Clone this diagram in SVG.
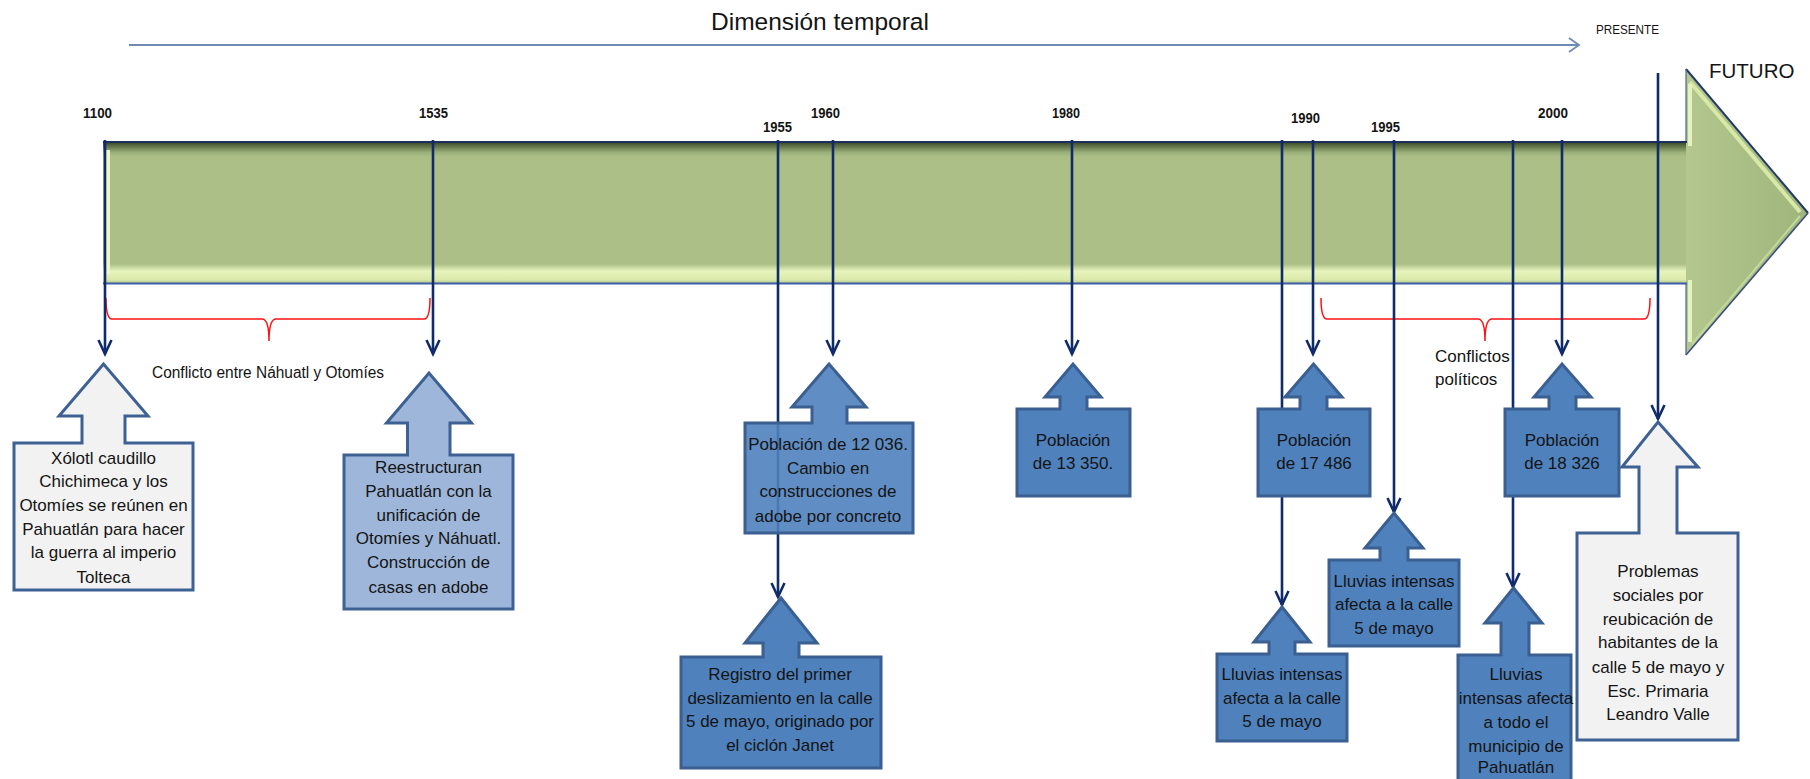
<svg xmlns="http://www.w3.org/2000/svg" width="1810" height="779" viewBox="0 0 1810 779">
<style>
text{font-family:"Liberation Sans",Arial,sans-serif;fill:#141414}
.yr{font-size:14px;font-weight:bold}
.bx text{font-size:17px;text-anchor:middle}
.gray{fill:#f2f2f2;stroke:#3e6193;stroke-width:3}
.lblue{fill:#9db6d9;stroke:#3e6193;stroke-width:3}
.blue{fill:#4f81bd;stroke:#3a5f90;stroke-width:3}
.vl{stroke:#0f2b6b;stroke-width:2.6;fill:none}
.brace{stroke:#ff1010;stroke-width:1.5;fill:none}
</style>
<defs>
<linearGradient id="barg" x1="0" y1="141" x2="0" y2="284" gradientUnits="userSpaceOnUse">
<stop offset="0" stop-color="#2c3b20"/>
<stop offset="0.03" stop-color="#56683f"/>
<stop offset="0.08" stop-color="#9bb079"/>
<stop offset="0.11" stop-color="#abbf87"/>
<stop offset="0.86" stop-color="#abbf87"/>
<stop offset="0.91" stop-color="#e6f4bc"/>
<stop offset="0.97" stop-color="#dbeaab"/>
<stop offset="1" stop-color="#abbf87"/>
</linearGradient>
<linearGradient id="headg" x1="1686" y1="0" x2="1808" y2="0" gradientUnits="userSpaceOnUse">
<stop offset="0" stop-color="#b3c78e"/>
<stop offset="1" stop-color="#9fb57b"/>
</linearGradient>
<marker id="ah" markerUnits="userSpaceOnUse" markerWidth="20" markerHeight="20" refX="0" refY="0" orient="auto" overflow="visible">
<path d="M-14,-6.5 L0,0 L-14,6.5" stroke="#0f2b6b" stroke-width="2.6" fill="none"/>
</marker>
</defs>
<rect width="1810" height="779" fill="#ffffff"/>

<g id="title">
<text x="711" y="30" font-size="24.5px">Dimensión temporal</text>
<line x1="129" y1="45" x2="1578" y2="45" stroke="#6f8ab5" stroke-width="2"/>
<path d="M1569,38 L1579,45 L1569,52" stroke="#6f8ab5" stroke-width="1.8" fill="none"/>
<text x="1596" y="34" font-size="13px" textLength="63" lengthAdjust="spacingAndGlyphs">PRESENTE</text>
<text x="1709" y="78" font-size="20.5px">FUTURO</text>
</g>

<g id="timeline-arrow">
<rect x="103" y="141" width="1584" height="143" fill="url(#barg)"/>
<rect x="104" y="150" width="6" height="124" fill="#eef7c6"/>
<polygon points="1686,69 1808,213 1686,355" fill="url(#headg)"/>
<path d="M1690,82 L1800,212" stroke="#d8e8a8" stroke-width="4" fill="none"/>
<path d="M1690,84 V146 M1690,280 V342" stroke="#e6f2bb" stroke-width="4" fill="none"/>
<path d="M1692,344 L1800,216" stroke="#c5d89a" stroke-width="2" fill="none"/>
<path d="M1686,69 L1808,213" stroke="#243a66" stroke-width="2" fill="none"/>
<path d="M1808,213 L1686,355" stroke="#3a4f80" stroke-width="1.6" fill="none"/>
<path d="M1686,69 V141 M1686,284 V355" stroke="#4a64b0" stroke-width="1.2" fill="none"/>
<line x1="103" y1="142" x2="1687" y2="142" stroke="#1c2e5a" stroke-width="2"/>
<line x1="103" y1="283.5" x2="1687" y2="283.5" stroke="#3f5ea8" stroke-width="2"/>
</g>

<g id="years">
<text class="yr" x="83" y="118" textLength="29" lengthAdjust="spacingAndGlyphs">1100</text>
<text class="yr" x="419" y="118" textLength="29" lengthAdjust="spacingAndGlyphs">1535</text>
<text class="yr" x="763" y="132" textLength="29" lengthAdjust="spacingAndGlyphs">1955</text>
<text class="yr" x="811" y="118" textLength="29" lengthAdjust="spacingAndGlyphs">1960</text>
<text class="yr" x="1052" y="118" textLength="28" lengthAdjust="spacingAndGlyphs">1980</text>
<text class="yr" x="1291" y="123" textLength="29" lengthAdjust="spacingAndGlyphs">1990</text>
<text class="yr" x="1371" y="132" textLength="29" lengthAdjust="spacingAndGlyphs">1995</text>
<text class="yr" x="1538" y="118" textLength="30" lengthAdjust="spacingAndGlyphs">2000</text>
</g>

<g id="braces">
<path class="brace" d="M106,298 Q106,319 112,319 H262 Q269,319 269,341 Q269,319 276,319 H424 Q430,319 430,298"/>
<path class="brace" d="M1321,298 Q1321,319 1327,319 H1478 Q1485,319 1485,341 Q1485,319 1492,319 H1644 Q1650,319 1650,298"/>
<text x="152" y="378" font-size="16px" textLength="232" lengthAdjust="spacingAndGlyphs">Conflicto entre Náhuatl y Otomíes</text>
<text x="1435" y="362" font-size="17px">Conflictos</text>
<text x="1435" y="385" font-size="17px">políticos</text>
</g>

<g id="connectors">
<line class="vl" x1="105" y1="140" x2="105" y2="354" marker-end="url(#ah)"/>
<line class="vl" x1="433" y1="140" x2="433" y2="354" marker-end="url(#ah)"/>
<line class="vl" x1="778" y1="140" x2="778" y2="597" marker-end="url(#ah)"/>
<line class="vl" x1="833" y1="140" x2="833" y2="354" marker-end="url(#ah)"/>
<line class="vl" x1="1072" y1="140" x2="1072" y2="354" marker-end="url(#ah)"/>
<line class="vl" x1="1282" y1="140" x2="1282" y2="605" marker-end="url(#ah)"/>
<line class="vl" x1="1313" y1="140" x2="1313" y2="354" marker-end="url(#ah)"/>
<line class="vl" x1="1394" y1="140" x2="1394" y2="512" marker-end="url(#ah)"/>
<line class="vl" x1="1513" y1="140" x2="1513" y2="587" marker-end="url(#ah)"/>
<line class="vl" x1="1562" y1="140" x2="1562" y2="354" marker-end="url(#ah)"/>
<line class="vl" x1="1658" y1="73" x2="1658" y2="419" marker-end="url(#ah)"/>
</g>

<g class="bx">
<g id="n1100">
<path class="gray" d="M14,443 H82 V416 H59 L103.5,364 L148,416 H125 V443 H193 V590 H14 Z"/>
<text x="103.5" y="464">Xólotl caudillo</text>
<text x="103.5" y="487">Chichimeca y los</text>
<text x="103.5" y="511">Otomíes se reúnen en</text>
<text x="103.5" y="535">Pahuatlán para hacer</text>
<text x="103.5" y="558">la guerra al imperio</text>
<text x="103.5" y="583">Tolteca</text>
</g>
<g id="n1535">
<path class="lblue" d="M344,455 H407.5 V423 H386.5 L429,373 L471.5,423 H450 V455 H513 V609 H344 Z"/>
<text x="428.5" y="473">Reestructuran</text>
<text x="428.5" y="497">Pahuatlán con la</text>
<text x="428.5" y="521">unificación de</text>
<text x="428.5" y="544">Otomíes y Náhuatl.</text>
<text x="428.5" y="568">Construcción de</text>
<text x="428.5" y="593">casas en adobe</text>
</g>
<g id="n1960">
<path class="blue" fill-opacity="0.9" d="M745,423 H812 V407 H792 L829,364 L866,407 H847 V423 H913 V533 H745 Z"/>
<text x="828" y="450">Población de 12 036.</text>
<text x="828" y="474">Cambio en</text>
<text x="828" y="497">construcciones de</text>
<text x="828" y="522">adobe por concreto</text>
</g>
<g id="n1955">
<path class="blue" d="M681,657 H763 V643 H745 L781,598 L817,643 H799 V657 H881 V768 H681 Z"/>
<text x="780" y="680">Registro del primer</text>
<text x="780" y="704">deslizamiento en la calle</text>
<text x="780" y="727">5 de mayo, originado por</text>
<text x="780" y="751">el ciclón Janet</text>
</g>
<g id="n1980">
<path class="blue" d="M1017,409 H1060 V397 H1045 L1073,364 L1101,397 H1087 V409 H1130 V496 H1017 Z"/>
<text x="1073" y="446">Población</text>
<text x="1073" y="469">de 13 350.</text>
</g>
<g id="n1990">
<path class="blue" d="M1258,409 H1300 V397 H1285 L1313.5,364 L1342,397 H1327 V409 H1370 V496 H1258 Z"/>
<text x="1314" y="446">Población</text>
<text x="1314" y="469">de 17 486</text>
</g>
<g id="n1990b">
<path class="blue" d="M1217,654 H1269 V642 H1254 L1282,607 L1310,642 H1295 V654 H1347 V741 H1217 Z"/>
<text x="1282" y="680">Lluvias intensas</text>
<text x="1282" y="704">afecta a la calle</text>
<text x="1282" y="727">5 de mayo</text>
</g>
<g id="n1995">
<path class="blue" d="M1329,560 H1380 V548 H1365 L1394,513 L1423,548 H1408 V560 H1459 V646 H1329 Z"/>
<text x="1394" y="587">Lluvias intensas</text>
<text x="1394" y="610">afecta a la calle</text>
<text x="1394" y="634">5 de mayo</text>
</g>
<g id="n2000">
<path class="blue" d="M1505,409 H1549 V397 H1534 L1562,364 L1591,397 H1576 V409 H1619 V496 H1505 Z"/>
<text x="1562" y="446">Población</text>
<text x="1562" y="469">de 18 326</text>
</g>
<g id="n1998">
<path class="blue" d="M1458,655 H1501 V623 H1485 L1513.5,588 L1542,623 H1529 V655 H1571 V782 H1458 Z"/>
<text x="1516" y="680">Lluvias</text>
<text x="1516" y="704">intensas afecta</text>
<text x="1516" y="728">a todo el</text>
<text x="1516" y="752">municipio de</text>
<text x="1516" y="773">Pahuatlán</text>
</g>
<g id="npresente">
<path class="gray" d="M1577,533 H1639 V467 H1622 L1658,422 L1698,467 H1677 V533 H1738 V740 H1577 Z"/>
<text x="1658" y="577">Problemas</text>
<text x="1658" y="601">sociales por</text>
<text x="1658" y="625">reubicación de</text>
<text x="1658" y="648">habitantes de la</text>
<text x="1658" y="673">calle 5 de mayo y</text>
<text x="1658" y="697">Esc. Primaria</text>
<text x="1658" y="720">Leandro Valle</text>
</g>
</g>
</svg>
